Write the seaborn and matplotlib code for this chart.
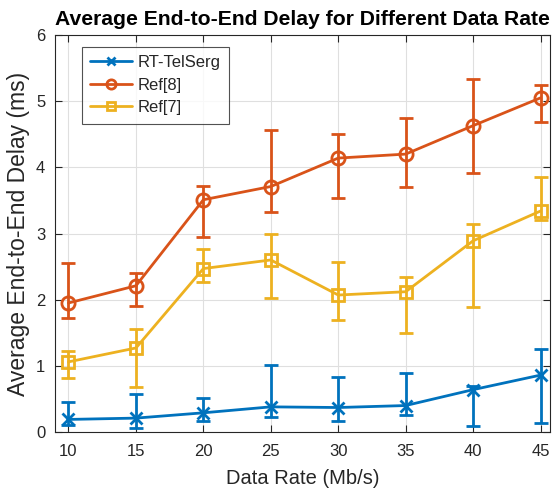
import numpy as np
import pandas as pd
import matplotlib
matplotlib.use("Agg")
import matplotlib.pyplot as plt
import seaborn as sns

data_rate = [10, 15, 20, 25, 30, 35, 40, 45]

rt_mean = [0.19, 0.21, 0.29, 0.38, 0.37, 0.40, 0.64, 0.86]
rt_low  = [0.10, 0.06, 0.16, 0.22, 0.17, 0.26, 0.09, 0.14]
rt_high = [0.46, 0.57, 0.52, 1.01, 0.83, 0.89, 0.69, 1.26]

r8_mean = [1.95, 2.21, 3.51, 3.71, 4.14, 4.20, 4.63, 5.05]
r8_low  = [1.73, 1.91, 2.94, 3.32, 3.54, 3.70, 3.92, 4.68]
r8_high = [2.55, 2.41, 3.72, 4.57, 4.50, 4.74, 5.33, 5.24]

r7_mean = [1.06, 1.27, 2.47, 2.60, 2.07, 2.12, 2.89, 3.34]
r7_low  = [0.81, 0.68, 2.26, 2.03, 1.70, 1.49, 1.89, 3.20]
r7_high = [1.22, 1.55, 2.77, 2.99, 2.57, 2.34, 3.15, 3.86]

series_names = ["RT-TelSerg", "Ref[8]", "Ref[7]"]
colors = ["#0072BD", "#D95319", "#EDB120"]
markers = ["x", "o", "s"]
msizes = [9, 9.5, 8]

sns.set_style("white")
plt.rcParams['font.family'] = ['Liberation Sans', 'DejaVu Sans']

fig = plt.figure(figsize=(5.52, 4.95), dpi=100)
ax = fig.add_axes([55/552, 1-432/495, (550-55)/552, (432-35)/495])

means = [rt_mean, r8_mean, r7_mean]
lows = [rt_low, r8_low, r7_low]
highs = [rt_high, r8_high, r7_high]

rows = []
for name, m in zip(series_names, means):
    for x, v in zip(data_rate, m):
        rows.append({"rate": x, "delay": v, "series": name})
df = pd.DataFrame(rows)

for name, m, lo, hi, c, mk, ms in zip(series_names, means, lows, highs, colors, markers, msizes):
    m = np.array(m); lo = np.array(lo); hi = np.array(hi)
    ax.errorbar(data_rate, m, yerr=[m - lo, hi - m], fmt='none', ecolor=c,
                elinewidth=2, capsize=5, capthick=2, zorder=2)
    sub = df[df.series == name]
    sns.lineplot(data=sub, x="rate", y="delay", ax=ax, color=c, linewidth=2,
                 marker=mk, markersize=ms,
                 markerfacecolor='none', markeredgecolor=c, markeredgewidth=2,
                 label=name, zorder=3)

ax.set_xlim(9, 45.7)
ax.set_ylim(0, 6)
ax.set_xticks(data_rate)
ax.set_yticks([0, 1, 2, 3, 4, 5, 6])
ax.grid(True, color='#DFDFDF', linewidth=0.8)
ax.tick_params(direction='in', length=5, width=0.8, labelsize=12, colors='#262626',
               top=True, right=True, bottom=True, left=True)
ax.tick_params(axis='x', pad=9)
ax.tick_params(axis='y', pad=7)
for s in ax.spines.values():
    s.set_color('#262626'); s.set_linewidth(0.8); s.set_visible(True)

ax.set_xlabel("Data Rate (Mb/s)", fontsize=14.5, color='#262626', labelpad=7)
ax.set_ylabel("Average End-to-End Delay (ms)", fontsize=16.5, color='#262626', labelpad=4)
ax.set_title("Average End-to-End Delay for Different Data Rate", fontsize=15.2,
             fontweight='bold', color='black', pad=7)

leg = ax.legend(loc='upper left', bbox_to_anchor=(0.0545, 0.970), borderaxespad=0,
                fontsize=12, frameon=True, fancybox=False, edgecolor='#262626',
                handlelength=2.5, handletextpad=0.35, borderpad=0.5,
                labelspacing=0.45, markerscale=0.7)
leg.get_frame().set_linewidth(0.8)

fig.savefig("out.png", dpi=100)
